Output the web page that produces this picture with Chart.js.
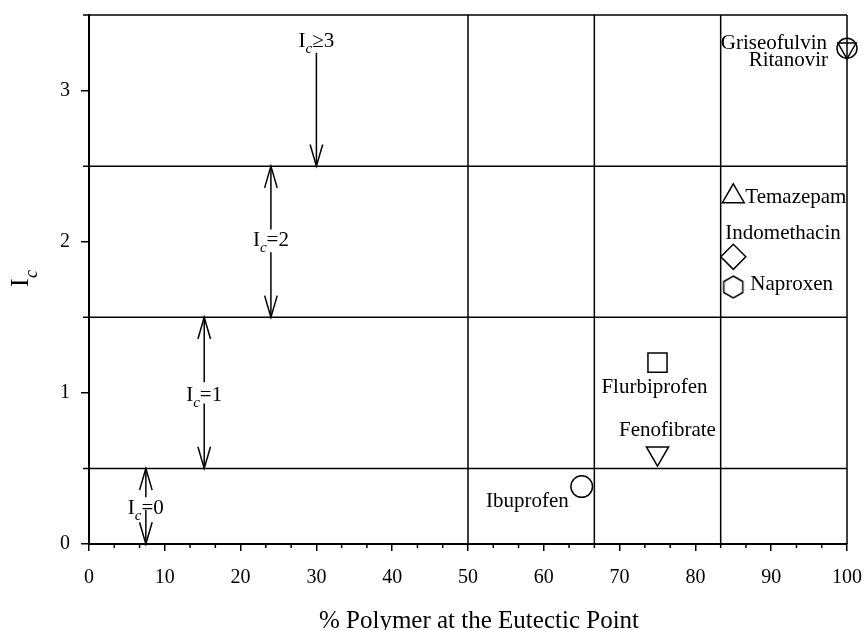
<!DOCTYPE html>
<html>
<head>
<meta charset="utf-8">
<script src="https://cdn.jsdelivr.net/npm/chart.js@4.4.0/dist/chart.umd.min.js"></script>
<style>
    html, body { margin: 0; padding: 0; background: #fff; }
    #eutectic_chart { display: block; }
</style>
</head>
<body>
<canvas id="eutectic_chart" width="863" height="630"></canvas>
<script>
// data
const drugs = ['Ibuprofen', 'Fenofibrate', 'Flurbiprofen', 'Naproxen', 'Indomethacin', 'Temazepam', 'Griseofulvin', 'Ritanovir']
const polymerPct = [65, 75, 75, 85, 85, 85, 100, 100]
const icValues = [0.38, 0.6, 1.2, 1.7, 1.9, 2.3, 3.28, 3.28]

const xTicks = [0, 10, 20, 30, 40, 50, 60, 70, 80, 90, 100]
const yTicks = [0, 1, 2, 3]

// class boundaries
const boundaryPct = [50, 200 / 3, 250 / 3]
const boundaryIc = [0.5, 1.5, 2.5]

// I_c class annotations
const icClasses = ['\u22653', '=2', '=1', '=0']
const icArrowX = [30, 24, 15.2, 7.5]
const icLabelY = [3.29, 1.97, 0.947, 0.2]
const icArrowSegs = [
    [[3.25, 2.5]],
    [[2.08, 2.5], [1.93, 1.5]],
    [[1.07, 1.5], [0.93, 0.5]],
    [[0.31, 0.5], [0.225, 0]]
]

const SERIF = '"Liberation Serif", "Times New Roman", serif'

function hexagonImage(r) {
    const c = document.createElement('canvas')
    const s = Math.ceil(r * 2 + 4)
    c.width = s
    c.height = s
    const g = c.getContext('2d')
    g.strokeStyle = '#000'
    g.lineWidth = 1.5
    g.beginPath()
    for (let k = 0; k < 6; k++) {
        const a = -Math.PI / 2 + k * Math.PI / 3
        const px = s / 2 + r * Math.cos(a)
        const py = s / 2 + r * Math.sin(a)
        if (k === 0) g.moveTo(px, py)
        else g.lineTo(px, py)
    }
    g.closePath()
    g.stroke()
    return c
}

const markers = {
    Ibuprofen: { style: 'circle', r: 10.8 },
    Fenofibrate: { style: 'triangle', r: 12.8, rot: 180 },
    Flurbiprofen: { style: 'rect', r: 13.5 },
    Naproxen: { style: hexagonImage(11), r: 11 },
    Indomethacin: { style: 'rectRot', r: 12.5 },
    Temazepam: { style: 'triangle', r: 12.6 },
    Griseofulvin: { style: 'circle', r: 10 },
    Ritanovir: { style: 'triangle', r: 10.5, rot: 180 }
}

const labelPlace = {
    Ibuprofen: { dx: -13, dy: 20, align: 'right' },
    Fenofibrate: { dx: 10, dy: -17, align: 'center' },
    Flurbiprofen: { dx: -3, dy: 30, align: 'center' },
    Naproxen: { dx: 17, dy: 3, align: 'left' },
    Indomethacin: { dx: -8, dy: -18, align: 'left' },
    Temazepam: { dx: 12, dy: 7, align: 'left' },
    Griseofulvin: { dx: -20, dy: 1, align: 'right' },
    Ritanovir: { dx: -19, dy: 18, align: 'right' }
}

function drawArrowHead(ctx, x, yTip, dir) {
    // dir = 1 points down, -1 points up
    ctx.beginPath()
    ctx.moveTo(x - 6.3, yTip - dir * 21.7)
    ctx.lineTo(x, yTip)
    ctx.lineTo(x + 6.3, yTip - dir * 21.7)
    ctx.stroke()
}

function drawIcLabel(ctx, cx, baseline, rest) {
    const big = '21px ' + SERIF
    const small = 'italic 15px ' + SERIF
    ctx.font = big
    const wI = ctx.measureText('I').width
    const wR = ctx.measureText(rest).width
    ctx.font = small
    const wC = ctx.measureText('c').width
    let x = cx - (wI + wC + wR) / 2
    ctx.textAlign = 'left'
    ctx.textBaseline = 'alphabetic'
    ctx.font = big
    ctx.fillText('I', x, baseline)
    x += wI
    ctx.font = small
    ctx.fillText('c', x, baseline + 6)
    x += wC
    ctx.font = big
    ctx.fillText(rest, x, baseline)
}

const paperPlugin = {
    id: 'paper',
    beforeDraw(chart) {
        const { ctx, width, height } = chart
        ctx.save()
        ctx.fillStyle = '#fff'
        ctx.fillRect(0, 0, width, height)
        ctx.restore()
    },
    beforeDatasetsDraw(chart) {
        const { ctx, chartArea: a, scales: { x, y } } = chart
        ctx.save()
        ctx.strokeStyle = '#000'
        ctx.lineWidth = 1.5
        ctx.beginPath()
        boundaryIc.concat([y.max]).forEach(v => {
            const py = y.getPixelForValue(v)
            ctx.moveTo(a.left - 6, py)
            ctx.lineTo(a.right, py)
        })
        boundaryPct.concat([x.max]).forEach(v => {
            const px = x.getPixelForValue(v)
            ctx.moveTo(px, a.top)
            ctx.lineTo(px, a.bottom)
        })
        ctx.stroke()

        // minor ticks on the x axis
        ctx.beginPath()
        for (let k = 1; k < 30; k++) {
            if (k % 3 === 0) continue
            const px = x.getPixelForValue(k * 10 / 3)
            ctx.moveTo(px, a.bottom)
            ctx.lineTo(px, a.bottom + 4)
        }
        ctx.stroke()
        ctx.restore()
    },
    afterDraw(chart) {
        const { ctx, chartArea: a, scales: { x, y } } = chart
        ctx.save()
        ctx.fillStyle = '#000'
        ctx.strokeStyle = '#000'

        // drug names
        ctx.font = '21px ' + SERIF
        ctx.textBaseline = 'alphabetic'
        drugs.forEach((name, i) => {
            const pt = chart.getDatasetMeta(i).data[0]
            const p = labelPlace[name]
            ctx.textAlign = p.align
            ctx.fillText(name, pt.x + p.dx, pt.y + p.dy)
        })

        // I_c class arrows
        ctx.lineWidth = 1.5
        icClasses.forEach((txt, i) => {
            const px = x.getPixelForValue(icArrowX[i])
            icArrowSegs[i].forEach(seg => {
                const y0 = y.getPixelForValue(seg[0])
                const y1 = y.getPixelForValue(seg[1])
                ctx.beginPath()
                ctx.moveTo(px, y0)
                ctx.lineTo(px, y1)
                ctx.stroke()
                drawArrowHead(ctx, px, y1, y1 > y0 ? 1 : -1)
            })
            drawIcLabel(ctx, px, y.getPixelForValue(icLabelY[i]), txt)
        })

        // axis titles
        ctx.font = '25px ' + SERIF
        ctx.textAlign = 'center'
        ctx.textBaseline = 'alphabetic'
        ctx.fillText('% Polymer at the Eutectic Point', (a.left + a.right) / 2 + 11, a.bottom + 84)

        ctx.translate(28, 287)
        ctx.rotate(-Math.PI / 2)
        ctx.textAlign = 'left'
        ctx.font = '26px ' + SERIF
        ctx.fillText('I', 0, 0)
        ctx.font = 'italic 18px ' + SERIF
        ctx.fillText('c', 9, 9)
        ctx.restore()
    }
}

const eutectic_chart = document.querySelector('#eutectic_chart')

function eutecticChart() {
    new Chart(eutectic_chart, {
        type: 'scatter',
        data: {
            datasets: drugs.map((name, i) => {
                const m = markers[name]
                return {
                    label: name,
                    data: [{ x: polymerPct[i], y: icValues[i] }],
                    pointStyle: m.style,
                    pointRadius: m.r,
                    pointRotation: m.rot || 0,
                    pointBorderColor: '#000',
                    pointBackgroundColor: 'rgba(0,0,0,0)',
                    pointBorderWidth: 1.5,
                    showLine: false,
                    clip: false
                }
            })
        },
        options: {
            responsive: false,
            animation: false,
            events: [],
            layout: { padding: { top: 15, right: 16, left: 0, bottom: 0 } },
            plugins: {
                legend: { display: false },
                tooltip: { enabled: false }
            },
            scales: {
                x: {
                    type: 'linear',
                    min: 0,
                    max: 100,
                    afterBuildTicks: s => { s.ticks = xTicks.map(v => ({ value: v })) },
                    afterFit: s => {
                        s.height = 86
                        s.paddingLeft = 0
                        s.paddingRight = 0
                    },
                    ticks: {
                        font: { family: SERIF, size: 20 },
                        color: '#000',
                        padding: 15,
                        maxRotation: 0,
                        autoSkip: false
                    },
                    grid: { drawOnChartArea: false, tickLength: 7, color: '#000', lineWidth: 1.5 },
                    border: { display: true, color: '#000', width: 2 }
                },
                y: {
                    type: 'linear',
                    min: 0,
                    max: 3.5,
                    afterBuildTicks: s => { s.ticks = yTicks.map(v => ({ value: v })) },
                    afterFit: s => {
                        s.width = 89
                        s.paddingTop = 0
                        s.paddingBottom = 0
                    },
                    ticks: {
                        font: { family: SERIF, size: 20 },
                        color: '#000',
                        padding: 11
                    },
                    grid: { drawOnChartArea: false, tickLength: 8, color: '#000', lineWidth: 1.5 },
                    border: { display: true, color: '#000', width: 2 }
                }
            }
        },
        plugins: [paperPlugin]
    })
}

eutecticChart()
</script>
</body>
</html>
